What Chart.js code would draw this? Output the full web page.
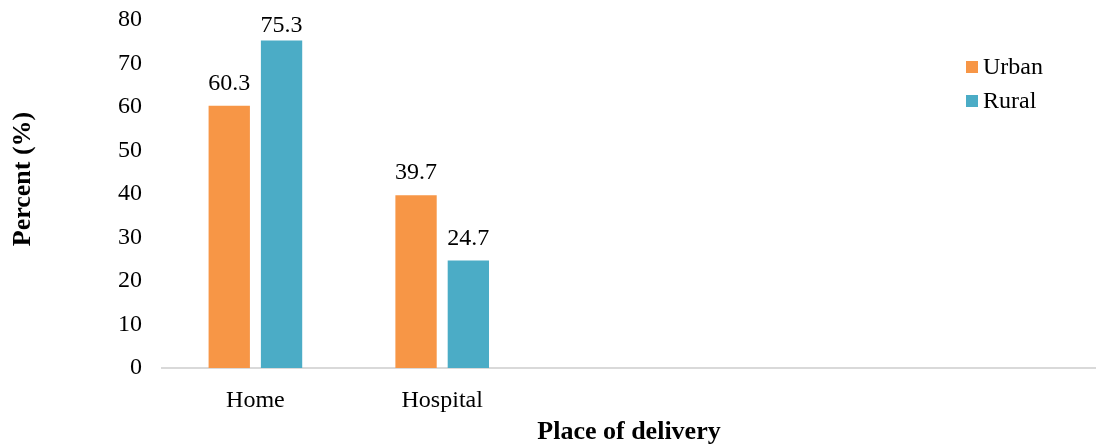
<!DOCTYPE html>
<html>
<head>
<meta charset="utf-8">
<script src="https://cdn.jsdelivr.net/npm/chart.js@4.4.1/dist/chart.umd.min.js"></script>
<style>
  html, body { margin: 0; padding: 0; background: #fff; }
  #wrap { width: 1096px; height: 448px; }
</style>
</head>
<body>
<div id="wrap"><canvas id="myChart" width="1096" height="448"></canvas></div>
<script>
// categories (last three are empty slots, as in the original sheet)
const categories = ["Home", "Hospital", "", "", ""];
const urbanValues = [60.3, 39.7, null, null, null];
const ruralValues = [75.3, 24.7, null, null, null];
const yTicks = [0, 10, 20, 30, 40, 50, 60, 70, 80];
const yTitle = "Percent (%)";
const xTitle = "Place of delivery";

const FONT = "'Liberation Serif', 'Times New Roman', serif";

// value labels above each bar (kept inside the canvas when the bar is tall)
const barLabels = {
    id: 'barLabels',
    afterDatasetsDraw(chart) {
        const ctx = chart.ctx;
        ctx.save();
        ctx.font = "24px " + FONT;
        ctx.fillStyle = "#000";
        ctx.textAlign = "center";
        ctx.textBaseline = "alphabetic";
        chart.data.datasets.forEach((ds, i) => {
            chart.getDatasetMeta(i).data.forEach((bar, j) => {
                const v = ds.data[j];
                if (v == null) return;
                ctx.fillText(v.toFixed(1), bar.x, Math.max(bar.y - 16, 32));
            });
        });
        ctx.restore();
    }
};

// legend inside the plot (top right) + the y title, which sits a bit above centre
const extras = {
    id: 'extras',
    afterDraw(chart) {
        const ctx = chart.ctx;
        ctx.save();
        ctx.font = "24px " + FONT;
        ctx.textBaseline = "middle";
        chart.data.datasets.forEach((ds, i) => {
            const y = 67 + i * 34;
            ctx.fillStyle = ds.backgroundColor;
            ctx.fillRect(966, y - 6, 12, 12);
            ctx.fillStyle = "#000";
            ctx.fillText(ds.label, 983, y + 1);
        });
        ctx.translate(23, 179);
        ctx.rotate(-Math.PI / 2);
        ctx.textAlign = "center";
        ctx.font = "bold 26px " + FONT;
        ctx.fillText(yTitle, 0, 0);
        ctx.restore();
    }
};

const ctx = document.getElementById('myChart').getContext("2d");

const data = {
    labels: categories,
    datasets: [
        {
            label: "Urban",
            data: urbanValues,
            backgroundColor: "#F79646",
            categoryPercentage: 0.56,
            barPercentage: 0.79,
        },
        {
            label: "Rural",
            data: ruralValues,
            backgroundColor: "#4BACC6",
            categoryPercentage: 0.56,
            barPercentage: 0.79,
        },
    ],
};

const config = {
    type: 'bar',
    data: data,
    plugins: [barLabels, extras],
    options: {
        responsive: false,
        animation: false,
        layout: { padding: { top: 20, right: 0, left: 0, bottom: 0 } },
        plugins: {
            legend: { display: false },
            tooltip: { enabled: false },
        },
        scales: {
            x: {
                afterFit: (s) => { s.height = 80; s.paddingLeft = 0; s.paddingRight = 0; },
                grid: { display: false, drawTicks: false },
                border: { display: true, color: "#d9d9d9", width: 2 },
                ticks: { color: "#000", font: { family: FONT, size: 24 }, padding: 18 },
                title: {
                    display: true,
                    text: xTitle,
                    color: "#000",
                    font: { family: FONT, size: 26, weight: "bold" },
                    padding: { top: 0, bottom: 0 },
                },
            },
            y: {
                min: 0,
                max: 80,
                afterFit: (s) => { s.width = 162; s.paddingTop = 0; s.paddingBottom = 0; },
                afterBuildTicks: (s) => { s.ticks = yTicks.map(v => ({ value: v })); },
                grid: { display: false, drawTicks: false },
                border: { display: false },
                ticks: { color: "#000", font: { family: FONT, size: 24 }, padding: 20 },
            },
        },
    },
};

const myChart = new Chart(ctx, config);
</script>
</body>
</html>
